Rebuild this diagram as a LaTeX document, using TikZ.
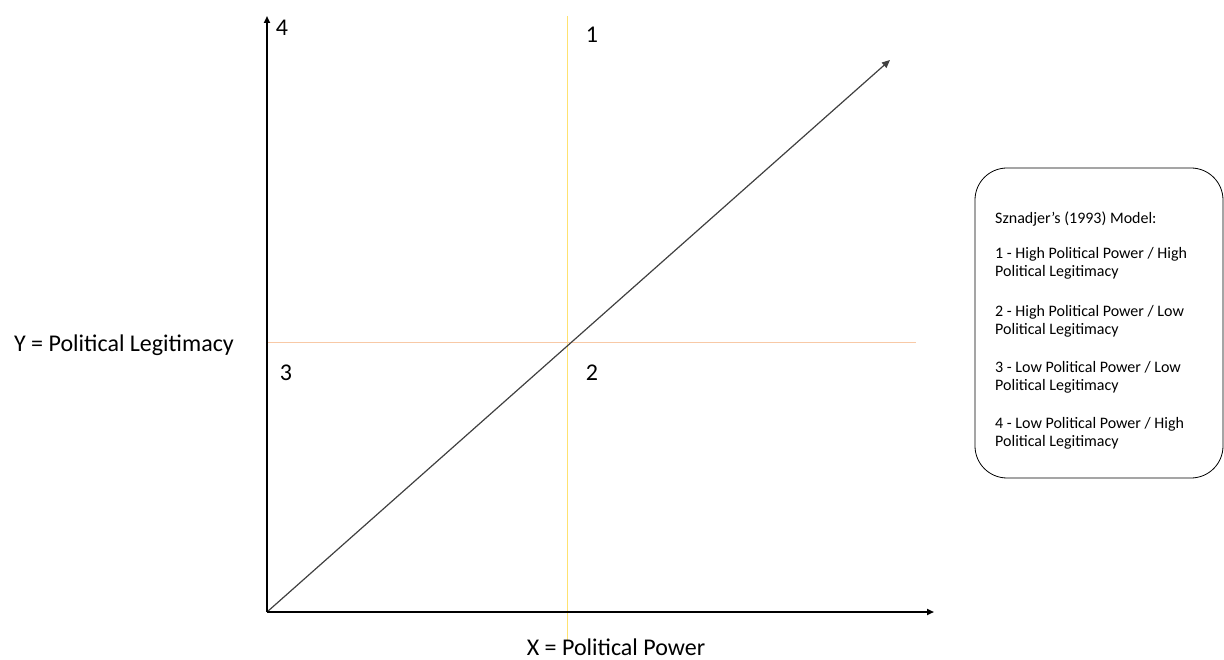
\documentclass[tikz,border=0pt]{standalone}
\usepackage{fontspec}
\setmainfont{Carlito}
\usepackage{xcolor}
\usetikzlibrary{arrows.meta}
\definecolor{quadyellow}{HTML}{FFE270}
\definecolor{quadorange}{HTML}{F8C9A6}
\definecolor{diaggray}{HTML}{404040}
\begin{document}
\begin{tikzpicture}[x=1pt,y=-1pt,
  axis/.style={black,line width=2pt,-{Triangle[length=7pt,width=6pt]}},
  quadlabel/.style={inner sep=0pt,font=\fontsize{24}{28}\selectfont},
  axislabel/.style={inner sep=0pt,anchor=base,font=\fontsize{24}{28}\selectfont}]
  \useasboundingbox (0,0) rectangle (1224,660);
  % axes and guide lines
  \coordinate (origin) at (267,612);
  \coordinate (ytop) at (267,16);
  \coordinate (xend) at (934,612);
  \coordinate (diagend) at (890,60);
  \coordinate (vtop) at (567,16);
  \coordinate (vbot) at (567,640);
  \coordinate (hleft) at (267,343);
  \coordinate (hright) at (916,343);
  \draw[quadyellow,line width=1pt] (vtop) -- (vbot);
  \draw[quadorange,line width=1pt] (hleft) -- (hright);
  \draw[diaggray,line width=1.2pt,-{Triangle[length=8pt,width=7pt]}] (origin) -- (diagend);
  \draw[axis] (origin) -- (ytop);
  \draw[axis] (origin) -- (xend);
  % quadrant numbers
  \node[quadlabel] (q4) at (282,28) {4};
  \node[quadlabel] (q1) at (592,35) {1};
  \node[quadlabel] (q3) at (286,373) {3};
  \node[quadlabel] (q2) at (592,373) {2};
  % axis labels
  \node[axislabel] (ylabel) at (124,352) {Y = Political Legitimacy};
  \node[axislabel] (xlabel) at (616,655) {X = Political Power};
  % legend
  \draw[black,line width=0.8pt,rounded corners=32pt] (975,168) rectangle (1223,478);
  \node[inner sep=0pt,anchor=north west,align=left,
        font=\fontsize{16}{18.5}\selectfont] (legend) at (995,212)
    {Sznadjer’s (1993) Model:\\[16pt]
     1 - High Political Power / High\\ Political Legitimacy\\[21pt]
     2 - High Political Power / Low\\ Political Legitimacy\\[19pt]
     3 - Low Political Power / Low\\ Political Legitimacy\\[19pt]
     4 - Low Political Power / High\\ Political Legitimacy};
\end{tikzpicture}
\end{document}
